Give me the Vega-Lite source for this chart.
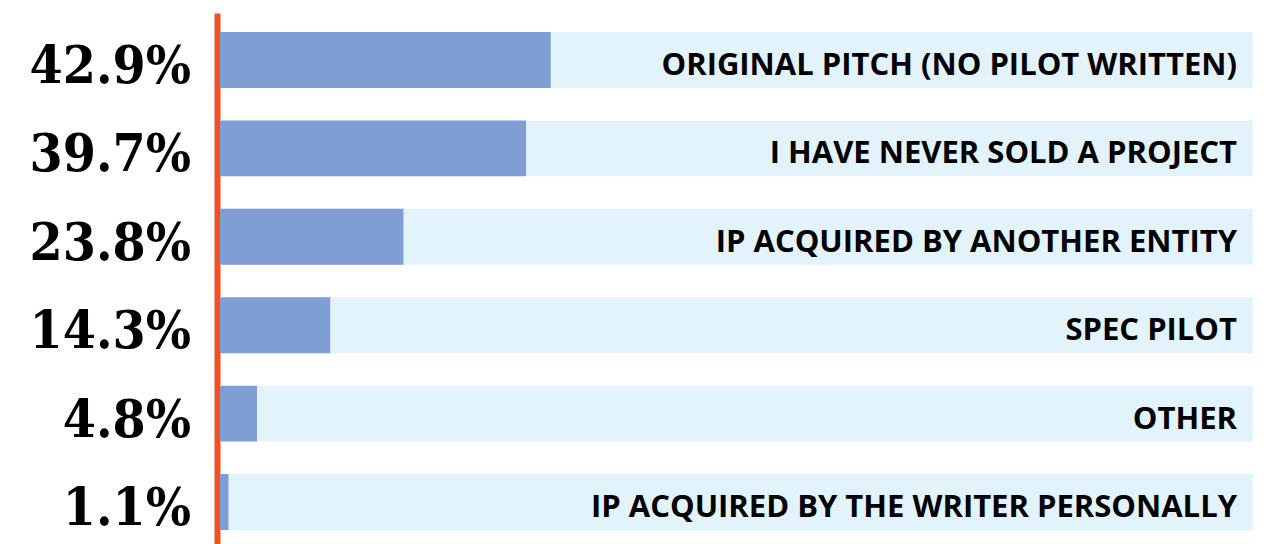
{
  "$schema": "https://vega.github.io/schema/vega-lite/v6.json",
  "width": 1033,
  "height": 536,
  "autosize": "none",
  "padding": {"left": 220, "top": 13, "right": 18, "bottom": 0},
  "background": "white",
  "config": {"view": {"stroke": null}},
  "data": {
    "values": [
      {"order": 1, "category": "ORIGINAL PITCH (NO PILOT WRITTEN)", "value": 42.9, "label": "42.9%"},
      {"order": 2, "category": "I HAVE NEVER SOLD A PROJECT", "value": 39.7, "label": "39.7%"},
      {"order": 3, "category": "IP ACQUIRED BY ANOTHER ENTITY", "value": 23.8, "label": "23.8%"},
      {"order": 4, "category": "SPEC PILOT", "value": 14.3, "label": "14.3%"},
      {"order": 5, "category": "OTHER", "value": 4.8, "label": "4.8%"},
      {"order": 6, "category": "IP ACQUIRED BY THE WRITER PERSONALLY", "value": 1.1, "label": "1.1%"}
    ]
  },
  "encoding": {
    "y": {
      "field": "category",
      "type": "nominal",
      "sort": {"field": "order"},
      "scale": {"paddingInner": 0.367, "paddingOuter": 0.215},
      "axis": {"labels": false, "ticks": false, "title": null, "domainColor": "#f05123", "domainWidth": 6, "offset": 3}
    }
  },
  "layer": [
    {
      "mark": {"type": "bar", "color": "#e3f3fc"},
      "encoding": {
        "x": {"datum": 0, "type": "quantitative", "scale": {"domain": [0, 134], "nice": false}, "axis": null},
        "x2": {"datum": 134}
      }
    },
    {
      "mark": {"type": "bar", "color": "#7f9fd4"},
      "encoding": {
        "x": {"field": "value", "type": "quantitative"}
      }
    },
    {
      "mark": {"type": "text", "align": "right", "baseline": "alphabetic", "dx": -29, "dy": 23, "font": "DejaVu Serif Condensed", "fontWeight": "bold", "fontSize": 53, "color": "#000000"},
      "encoding": {
        "x": {"datum": 0, "type": "quantitative"},
        "text": {"field": "label"}
      }
    },
    {
      "mark": {"type": "text", "align": "right", "baseline": "alphabetic", "dx": -16, "dy": 15, "font": "Open Sans", "fontWeight": "bold", "fontSize": 31, "color": "#000000"},
      "encoding": {
        "x": {"datum": 134, "type": "quantitative"},
        "text": {"field": "category"}
      }
    }
  ]
}
